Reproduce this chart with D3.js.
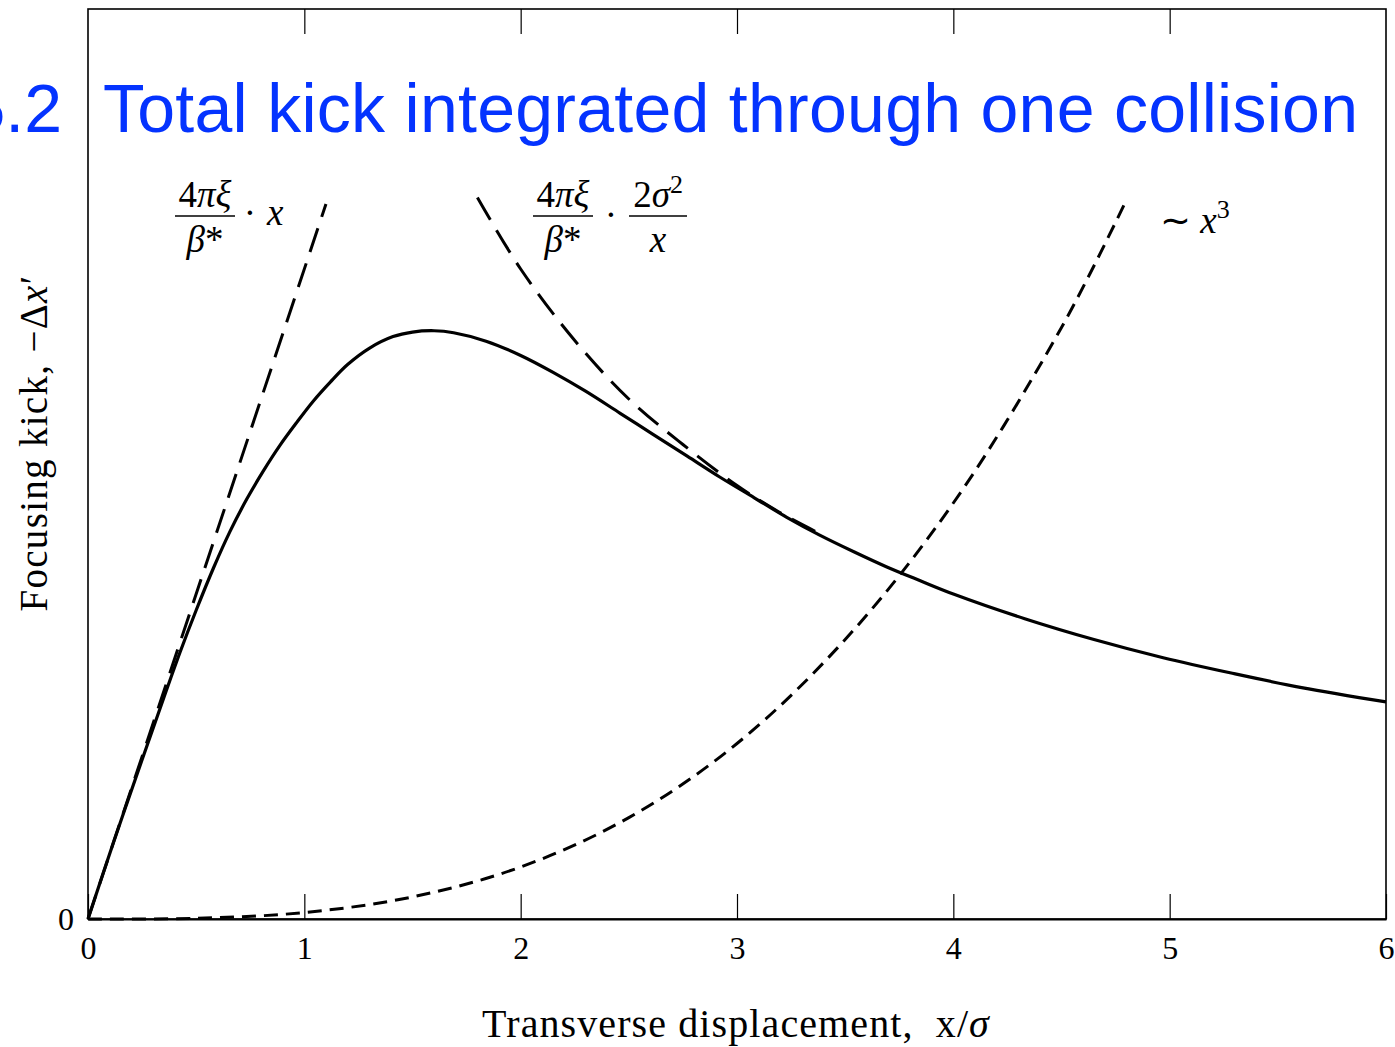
<!DOCTYPE html>
<html>
<head>
<meta charset="utf-8">
<script src="https://cdn.jsdelivr.net/npm/d3@7"></script>
<style>
  body { margin: 0; background: #fff; }
  svg { display: block; }
</style>
</head>
<body>
<div id="chart"></div>
<script>
// x in units of sigma, y in units of 4*pi*xi/beta*
const xTicks = [0, 1, 2, 3, 4, 5, 6];
const yTickLabels = ['0'];

// total kick (solid)
const kickX = [0, 0.12, 0.25, 0.35, 0.425, 0.5, 0.58, 0.656, 0.734, 0.81, 0.888, 0.965, 1.042, 1.12, 1.2, 1.3,
  1.41, 1.5, 1.6, 1.69, 1.84, 2.0, 2.15, 2.3, 2.46, 2.61, 2.77, 2.92, 3.08, 3.23, 3.38, 3.54, 3.69, 3.85, 4.0,
  4.33, 4.65, 4.97, 5.29, 5.61, 6.0];
const kickY = [0, 0.12, 0.245, 0.34, 0.41, 0.475, 0.54, 0.596, 0.646, 0.689, 0.729, 0.764, 0.797, 0.826, 0.853, 0.878,
  0.896, 0.903, 0.905, 0.902, 0.889, 0.867, 0.841, 0.812, 0.778, 0.746, 0.712, 0.68, 0.648, 0.618, 0.591, 0.565, 0.542, 0.52, 0.5,
  0.462, 0.43, 0.402, 0.378, 0.356, 0.334];

// small-amplitude asymptote (long dashes)
const linearX = [0, 1.1];
const linearY = [0, 1.1];

// large-amplitude asymptote (long dashes)
const farX = [1.8, 2.0, 2.25, 2.5, 2.75, 3.0, 3.2, 3.4];
const farY = [1.11, 1.0, 0.89, 0.8, 0.73, 0.667, 0.625, 0.59];

// ~x^3 curve (short dashes)
const cubeX = [0, 0.5, 1, 1.5, 2, 2.5, 3, 3.5, 4, 4.5, 4.8];
const cubeY = [0, 0.001, 0.01, 0.034, 0.08, 0.156, 0.27, 0.43, 0.64, 0.91, 1.106];

const W = 1395, H = 1047;
const serif = "'Liberation Serif', 'Times New Roman', serif";

const svg = d3.select('#chart').append('svg')
  .attr('width', W)
  .attr('height', H)
  .style('background', '#fff');

const x = d3.scaleLinear().domain([0, 6]).range([88, 1386]);
const y = d3.scaleLinear().domain([0, 1.4]).range([919, 9]);

// frame
svg.append('rect')
  .attr('x', x(0)).attr('y', y(1.4))
  .attr('width', x(6) - x(0)).attr('height', y(0) - y(1.4))
  .attr('fill', 'none').attr('stroke', '#000').attr('stroke-width', 1.6);

// bottom axis, ticks pointing inward
const bottomAxis = svg.append('g')
  .attr('transform', `translate(0,${y(0)})`)
  .call(d3.axisBottom(x).tickValues(xTicks).tickSizeInner(-25).tickSizeOuter(0).tickPadding(17)
    .tickFormat(d3.format('d')));
bottomAxis.select('.domain').attr('stroke-width', 2);
bottomAxis.selectAll('.tick line').attr('stroke-width', 1.2);
bottomAxis.selectAll('text').attr('font-family', serif).attr('font-size', 32).attr('fill', '#000');

// top axis, inward ticks, no labels
const topAxis = svg.append('g')
  .attr('transform', `translate(0,${y(1.4)})`)
  .call(d3.axisTop(x).tickValues(xTicks.slice(1, -1)).tickSizeInner(-25).tickSizeOuter(0).tickFormat(''));
topAxis.select('.domain').remove();
topAxis.selectAll('.tick line').attr('stroke-width', 1.2);

// left axis, only the zero label
const leftAxis = svg.append('g')
  .attr('transform', `translate(${x(0)},0)`)
  .call(d3.axisLeft(y).tickValues([0]).tickSize(0).tickPadding(14).tickFormat((d, i) => yTickLabels[i]));
leftAxis.select('.domain').remove();
leftAxis.selectAll('text').attr('font-family', serif).attr('font-size', 32).attr('fill', '#000');

// curves
const smooth = d3.line()
  .x(d => x(d[0]))
  .y(d => y(d[1]))
  .curve(d3.curveCatmullRom.alpha(0.5));

const curves = [
  { xs: cubeX, ys: cubeY, dash: '14,8', w: 3 },
  { xs: linearX, ys: linearY, dash: '25,12', w: 3 },
  { xs: farX, ys: farY, dash: '26,12', w: 3 },
  { xs: kickX, ys: kickY, dash: null, w: 3.2 }
];

svg.append('g').attr('class', 'curves')
  .selectAll('path')
  .data(curves)
  .join('path')
  .attr('d', c => smooth(c.xs.map((v, i) => [v, c.ys[i]])))
  .attr('fill', 'none')
  .attr('stroke', '#000')
  .attr('stroke-width', c => c.w)
  .attr('stroke-dasharray', c => c.dash)
  .attr('stroke-linejoin', 'round');

// math annotations
const ann = svg.append('g').attr('font-family', serif).attr('font-size', 37).attr('fill', '#000');

function frac(cx, half, num, den) {
  const t1 = ann.append('text').attr('x', cx).attr('y', 207).attr('text-anchor', 'middle');
  num(t1);
  ann.append('line')
    .attr('x1', cx - half).attr('x2', cx + half)
    .attr('y1', 216).attr('y2', 216)
    .attr('stroke', '#000').attr('stroke-width', 1.3);
  const t2 = ann.append('text').attr('x', cx).attr('y', 252).attr('text-anchor', 'middle');
  den(t2);
}

const fourPiXi = t => {
  t.append('tspan').text('4');
  t.append('tspan').attr('font-style', 'italic').text('πξ');
};
const betaStar = t => {
  t.append('tspan').attr('font-style', 'italic').text('β');
  t.append('tspan').text('*');
};

frac(205, 30, fourPiXi, betaStar);
ann.append('text').attr('x', 250).attr('y', 225).attr('text-anchor', 'middle').text('·');
ann.append('text').attr('x', 267).attr('y', 225).attr('font-style', 'italic').text('x');

frac(563, 30, fourPiXi, betaStar);
ann.append('text').attr('x', 611).attr('y', 227).attr('text-anchor', 'middle').text('·');
frac(658, 29, t => {
  t.append('tspan').text('2');
  t.append('tspan').attr('font-style', 'italic').text('σ');
  t.append('tspan').attr('font-size', 26).attr('dy', -14).text('2');
}, t => t.append('tspan').attr('font-style', 'italic').text('x'));

const cube = ann.append('text').attr('x', 1160).attr('y', 233);
cube.append('tspan').text('∼ ');
cube.append('tspan').attr('font-style', 'italic').text('x');
cube.append('tspan').attr('font-size', 26).attr('dy', -15).text('3');

// axis titles
const xt = svg.append('text')
  .attr('x', 736).attr('y', 1037)
  .attr('text-anchor', 'middle')
  .attr('font-family', serif).attr('font-size', 40)
  .attr('letter-spacing', 1.1);
xt.append('tspan').text('Transverse displacement,\u00a0 x/');
xt.append('tspan').attr('font-style', 'italic').text('σ');

const yt = svg.append('text')
  .attr('transform', 'translate(47,443) rotate(-90)')
  .attr('text-anchor', 'middle')
  .attr('font-family', serif).attr('font-size', 39)
  .attr('letter-spacing', 1.3);
yt.append('tspan').text('Focusing kick, −Δ');
yt.append('tspan').attr('font-style', 'italic').text('x');
yt.append('tspan').text('′');

// slide title
const title = svg.append('g')
  .attr('font-family', "'Liberation Sans', Arial, sans-serif")
  .attr('font-size', 68)
  .attr('fill', '#0433ff');
title.append('text').attr('x', 62).attr('y', 132).attr('text-anchor', 'end').text('5.2');
title.append('text').attr('x', 103).attr('y', 132).attr('letter-spacing', 0.27)
  .text('Total kick integrated through one collision');
</script>
</body>
</html>
